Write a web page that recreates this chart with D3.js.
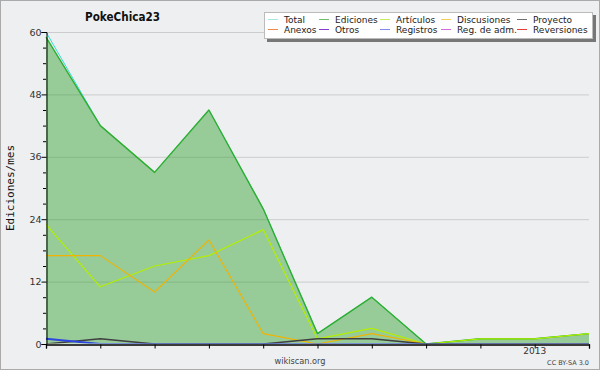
<!DOCTYPE html>
<html><head><meta charset="utf-8">
<script src="https://cdn.jsdelivr.net/npm/d3@7/dist/d3.min.js"></script>
<style>html,body{margin:0;padding:0;background:#fff}svg{display:block}</style>
</head><body>
<script>
const months = ["2012-04","2012-05","2012-06","2012-07","2012-08","2012-09","2012-10","2012-11","2012-12","2013-01","2013-02"];
const total       = [60,42,33,45,26,2,9,0,1,1,2];
const ediciones   = [59,42,33,45,26,2,9,0,1,1,2];
const articulos   = [23,11,15,17,22,1,3,0,1,1,2];
const discusiones = [17,17,10,20,2,0,2,0,0,0,0];
const proyecto    = [0,1,0,0,0,1,1,0,0,0,0];
const registros   = [1,0,0,0,0,0,0,0,0,0,0];
const yTicks = [0,12,24,36,48,60];
const xLabels = [{m:"2013-01", t:"2013"}];
const legendNames = ["Total","Ediciones","Artículos","Discusiones","Proyecto","Anexos","Otros","Registros","Reg. de adm.","Reversiones"];
const legendColors = ["#a8e6e6","#6cc06c","#c6ee5a","#f6cf5a","#707070","#f08a4a","#8a3cd0","#8088f0","#d46ae0","#e83a3a"];

const W=600,H=370;
const svg=d3.select("body").append("svg").attr("width",W).attr("height",H);
svg.append("rect").attr("x",0.5).attr("y",0.5).attr("width",W-1).attr("height",H-1).attr("fill","#eeeff1").attr("stroke","#aaaaaa");

const x=d3.scalePoint().domain(months).range([46,589]).padding(0);
const y=d3.scaleLinear().domain([0,60]).range([344,32]);

svg.append("defs").append("clipPath").attr("id","plot").append("rect").attr("x",40).attr("y",20).attr("width",555).attr("height",323.4);

// grid
svg.append("g").selectAll("line").data(yTicks.filter(d=>d>0)).join("line")
 .attr("x1",46).attr("x2",589).attr("y1",d=>y(d)+0.5).attr("y2",d=>y(d)+0.5)
 .attr("stroke","#cccccc").attr("stroke-width",1);

const line=d3.line().x((d,i)=>x(months[i])).y(d=>y(d));
const area=d3.area().x((d,i)=>x(months[i])).y0(y(0)).y1(d=>y(d));

const gp=svg.append("g").attr("clip-path","url(#plot)");
gp.append("path").attr("d",area(ediciones)).attr("fill","#2ca02c").attr("fill-opacity",0.45);
const series=[
 {v:total,c:"#35dada",w:1},
 {v:ediciones,c:"#2fae2f",w:1.4},
 {v:articulos,c:"#b4ee00",w:1.2},
 {v:discusiones,c:"#f0b400",w:1.1},
 {v:proyecto,c:"#404040",w:1.6},
 {v:registros,c:"#2d44e0",w:2}
];
series.forEach(s=>gp.append("path").attr("d",line(s.v)).attr("fill","none").attr("stroke",s.c).attr("stroke-width",s.w).attr("stroke-linejoin","round"));

// axes
const yAxis=d3.axisLeft(y).tickValues(yTicks).tickSize(5).tickFormat(d3.format("d"));
const gy=svg.append("g").attr("transform","translate(46.5,0)").call(yAxis);
gy.select(".domain").attr("stroke","#000");
gy.selectAll(".tick line").attr("stroke","#000");
gy.selectAll("text").attr("font-family","DejaVu Sans").attr("font-size",9.5).attr("fill","#333").attr("x",-5);
const minor=d3.range(0,61,3).filter(d=>d%12!==0);
svg.append("g").selectAll("line").data(minor).join("line")
 .attr("x1",43).attr("x2",46).attr("y1",d=>y(d)+0.5).attr("y2",d=>y(d)+0.5).attr("stroke","#000");

const xAxis=d3.axisBottom(x).tickSize(4).tickFormat("");
const gx=svg.append("g").attr("transform","translate(0,344.5)").call(xAxis);
gx.select(".domain").attr("stroke","#000").attr("stroke-width",1.3);
gx.selectAll(".tick line").attr("stroke","#000");
svg.append("g").selectAll("text").data(xLabels).join("text")
 .attr("x",d=>x(d.m)).attr("y",354).attr("text-anchor","middle")
 .attr("font-family","DejaVu Sans").attr("font-size",9).attr("fill","#333").text(d=>d.t);

// title & labels
svg.append("text").attr("x",85).attr("y",21).attr("textLength",75).attr("lengthAdjust","spacingAndGlyphs").attr("font-family","DejaVu Sans").attr("font-weight","bold").attr("font-size",12.5).attr("fill","#111").text("PokeChica23");
svg.append("text").attr("transform","translate(14,188) rotate(-90)").attr("text-anchor","middle").attr("font-family","DejaVu Sans Mono").attr("font-size",11).attr("fill","#111").text("Ediciones/mes");
svg.append("text").attr("x",300).attr("y",364).attr("text-anchor","middle").attr("font-family","DejaVu Sans").attr("font-size",8.2).attr("fill","#444").text("wikiscan.org");
svg.append("text").attr("x",589).attr("y",365).attr("text-anchor","end").attr("font-family","DejaVu Sans").attr("font-size",6.5).attr("fill","#444").text("CC BY-SA 3.0");

// legend
const lg=svg.append("g");
lg.append("rect").attr("x",267).attr("y",15).attr("width",329).attr("height",27).attr("fill","#777");
lg.append("rect").attr("x",264.5).attr("y",12.5).attr("width",328).attr("height",26).attr("fill","#fff").attr("stroke","#bbb");
const colX=[268,319,380,441,517];
legendNames.forEach((n,i)=>{
  const c=i%5,r=Math.floor(i/5);
  const yy=19.5+r*10;
  lg.append("line").attr("x1",colX[c]).attr("x2",colX[c]+10).attr("y1",yy).attr("y2",yy).attr("stroke",legendColors[i]).attr("stroke-width",1);
  lg.append("text").attr("x",colX[c]+16).attr("y",yy+3.5).attr("font-family","DejaVu Sans").attr("font-size",9).attr("fill","#222").text(n);
});
</script>
</body></html>
